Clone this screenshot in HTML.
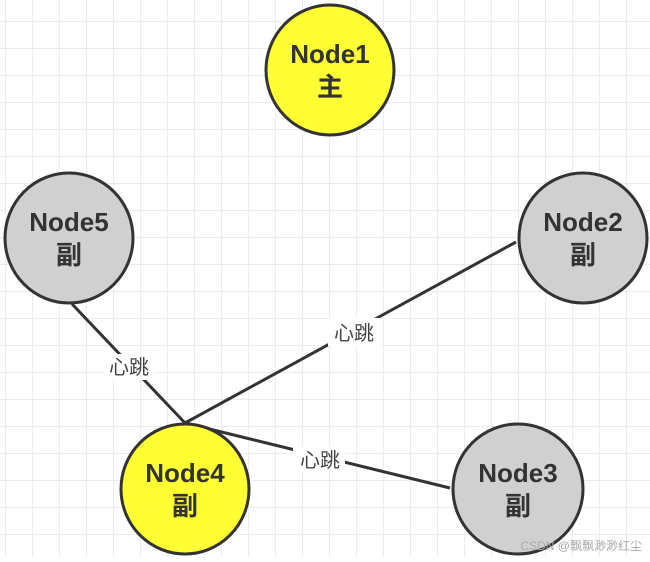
<!DOCTYPE html>
<html><head><meta charset="utf-8"><style>
html,body{margin:0;padding:0;background:#fff;}
body{width:650px;height:557px;overflow:hidden;}
</style></head><body>
<svg width="650" height="557" viewBox="0 0 650 557" xmlns="http://www.w3.org/2000/svg" font-family="Liberation Sans, Noto Sans CJK SC, sans-serif">
<defs>
<pattern id="g" width="27" height="27" patternUnits="userSpaceOnUse" x="6" y="22">
<path d="M27 0V27M0 27H27" fill="none" stroke="#e6e6e6" stroke-width="1.5"/>
</pattern>
</defs>
<rect width="650" height="557" fill="#fff"/>
<rect width="650" height="557" fill="url(#g)"/>
<g stroke="#333" stroke-width="3" fill="none">
<line x1="72" y1="304" x2="185" y2="423"/>
<line x1="516" y1="242" x2="185" y2="423"/>
<line x1="450" y1="488" x2="185" y2="423"/>
</g>
<g fill="#fff">
<rect x="104" y="354" width="50" height="26"/>
<rect x="328" y="318" width="52" height="28"/>
<rect x="293" y="446" width="52" height="26"/>
</g>
<g font-size="20" fill="#444" text-anchor="middle">
<text x="129" y="374">心跳</text>
<text x="354" y="340">心跳</text>
<text x="320" y="467">心跳</text>
</g>
<g stroke="#333" stroke-width="3">
<ellipse cx="330" cy="70" rx="64" ry="65" fill="#ffff33"/>
<ellipse cx="69" cy="238" rx="64" ry="65" fill="#d0d0d0"/>
<ellipse cx="583" cy="238" rx="64" ry="65" fill="#d0d0d0"/>
<ellipse cx="185" cy="489" rx="64" ry="65" fill="#ffff33"/>
<ellipse cx="518" cy="489" rx="65" ry="65" fill="#d0d0d0"/>
</g>
<g font-size="26" font-weight="bold" fill="#333" text-anchor="middle">
<text x="330" y="63">Node1</text><text x="330" y="96">主</text>
<text x="69" y="231">Node5</text><text x="69" y="264">副</text>
<text x="583" y="231">Node2</text><text x="583" y="264">副</text>
<text x="185" y="482">Node4</text><text x="185" y="515">副</text>
<text x="518" y="482">Node3</text><text x="518" y="515">副</text>
</g>
<text x="642" y="550" font-size="12" fill="#aaa" text-anchor="end">CSDN @飘飘渺渺红尘</text>
</svg>
</body></html>
